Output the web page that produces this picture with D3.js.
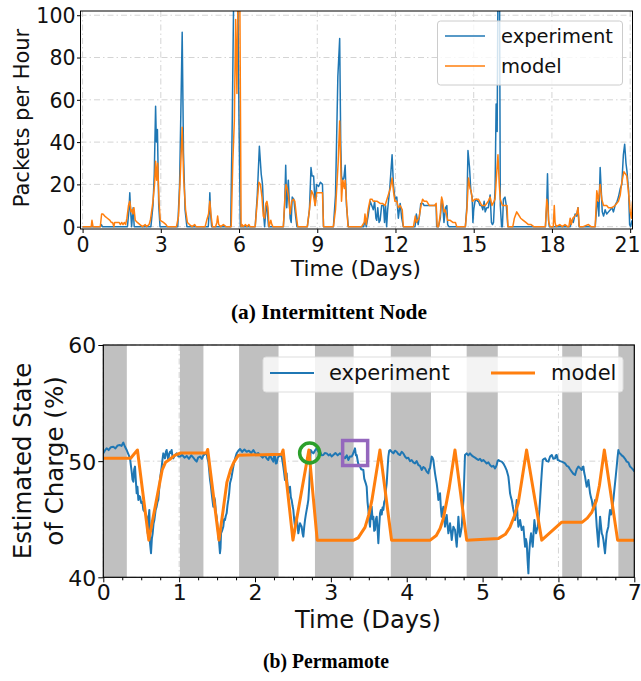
<!DOCTYPE html>
<html><head><meta charset="utf-8">
<script src="https://cdn.jsdelivr.net/npm/d3@7"></script>
<style>body{margin:0;background:#fff}svg{display:block;font-family:"DejaVu Sans",sans-serif}</style>
</head><body><svg id="c" width="641" height="681"></svg>
<script>
// ---------- (a) Intermittent Node : packets per hour ----------
const expTa = [0,0.68,0.72,0.76,1.72,1.78,1.81,1.84,1.88,1.94,1.98,2.62,2.7,2.75,2.8,2.83,2.87,2.92,2.97,3.65,3.72,3.77,3.82,3.87,3.93,4.0,4.82,4.86,4.88,4.91,4.95,5.68,5.74,5.8,5.95,6.0,6.05,6.62,6.7,6.78,6.85,6.9,6.95,6.98,7.03,7.07,7.13,7.7,7.75,7.79,7.83,7.89,7.96,8.0,8.04,8.1,8.17,8.22,8.62,8.7,8.76,8.8,8.86,8.92,8.97,9.05,9.12,9.2,9.24,9.62,9.7,9.79,9.86,9.9,9.93,9.97,10.02,10.07,10.12,10.19,10.7,10.78,10.83,10.88,10.95,11.03,11.09,11.15,11.2,11.25,11.28,11.32,11.37,11.41,11.47,11.54,11.58,11.62,11.66,11.7,11.78,11.87,11.92,11.98,12.05,12.11,12.18,12.24,12.3,12.69,12.75,12.8,12.87,12.92,12.97,13.05,13.1,13.2,13.3,13.4,13.5,13.56,13.58,13.65,13.72,13.77,13.81,13.86,13.92,13.97,14.0,14.05,14.68,14.74,14.78,14.84,14.89,14.94,14.97,15.0,15.05,15.1,15.15,15.18,15.24,15.3,15.35,15.4,15.44,15.5,15.56,15.63,15.68,15.72,15.76,15.82,15.86,15.9,15.93,15.99,16.02,16.07,16.1,16.14,16.2,16.25,16.31,17.75,17.8,17.83,17.87,17.9,18.6,18.7,18.76,18.82,18.89,18.95,19.0,19.04,19.66,19.72,19.76,19.8,19.85,19.9,19.93,19.98,20.04,20.1,20.17,20.24,20.3,20.36,20.42,20.5,20.55,20.62,20.68,20.74,20.79,20.84,20.88,20.94,20.98,21.02,21.07];
const expVa = [0,0,1,0,0,8,16,8,0,9,0,0,10,25,57,40,46,10,0,0,20,55,92,35,8,0,0,8,16,6,0,0,50,115,115,50,0,0,15,38,25,20,5,0,8,10,0,0,10,29,9,22,4,2,14,13,5,0,0,8,28,24,24,10,20,19,21,20,0,0,15,71,89,40,24,22,23,29,10,0,0,0,3,0,5,12,10,8,12,4,3,9,2,3,10,10,2,10,0,8,18,34,20,13,14,4,11,4,0,0,0,6,1,5,11,11,10,10,10,10,10,10,0,0,4,13,10,2,9,10,1,0,0,10,36,28,17,14,2,8,12,13,12,12,10,10,8,12,7,9,9,15,2,1,2,18,58,45,115,115,10,0,0,13,14,10,0,0,10,25,3,0,0,0,3,2,6,5,9,0,0,10,12,5,28,15,7,5,8,6,7,8,9,7,10,12,14,18,20,34,39,30,26,17,1,0,3];
const modTa = [0,0.33,0.36,0.4,0.68,0.73,0.78,0.85,0.95,1.05,1.1,1.15,1.2,1.23,1.3,1.4,1.45,1.5,1.55,1.6,1.65,1.7,1.76,1.81,1.86,1.9,1.93,1.97,2.02,2.1,2.2,2.3,2.4,2.45,2.55,2.6,2.7,2.76,2.8,2.84,2.88,2.93,2.98,3.1,3.2,3.25,3.6,3.68,3.75,3.82,3.88,3.95,4.02,4.1,4.2,4.3,4.35,4.7,4.76,4.83,4.88,4.93,4.98,5.1,5.15,5.18,5.22,5.3,5.4,5.5,5.7,5.76,5.82,5.87,5.92,5.96,6.03,6.08,6.12,6.16,6.25,6.3,6.38,6.42,6.62,6.7,6.76,6.82,6.88,6.93,6.98,7.03,7.07,7.11,7.15,7.22,7.26,7.3,7.7,7.75,7.8,7.85,7.9,7.96,8.02,8.08,8.14,8.2,8.25,8.62,8.7,8.78,8.85,8.92,8.98,9.1,9.2,9.24,9.62,9.7,9.8,9.86,9.9,9.93,9.98,10.04,10.07,10.12,10.18,10.7,10.8,10.83,10.88,10.95,11.03,11.1,11.15,11.3,11.41,11.5,11.6,11.7,11.8,11.87,11.93,11.98,12.05,12.11,12.18,12.26,12.3,12.69,12.76,12.8,12.9,12.98,13.04,13.1,13.2,13.3,13.4,13.5,13.56,13.6,13.65,13.72,13.77,13.81,13.86,13.9,13.95,14.0,14.1,14.2,14.3,14.35,14.68,14.74,14.8,14.86,14.9,14.95,15.05,15.18,15.31,15.44,15.56,15.63,15.7,15.82,15.88,15.93,15.98,16.02,16.1,16.2,16.28,16.31,16.5,16.56,16.65,16.7,16.8,16.9,17.0,17.1,17.2,17.3,17.75,17.8,17.84,17.88,17.93,18.05,18.09,18.12,18.16,18.3,18.4,18.5,18.6,18.65,18.7,18.74,18.8,18.88,18.95,19.0,19.05,19.2,19.4,19.5,19.66,19.72,19.78,19.85,19.91,19.98,20.1,20.17,20.3,20.42,20.55,20.62,20.68,20.76,20.87,20.94,21.0,21.05,21.09];
const modVa = [0,0,3,0,0,6,6,5,4,3,2,2,0,2,2,2,1,2,1,2,1,4,10,12,7,8,6,9,3,2,1,0,1,0,1,3,12,20,31,22,30,12,3,2,1,0,0,5,25,47,22,8,2,1,0,1,0,0,3,6,12,5,0,0,2,5,1,0,1,0,0,30,50,98,63,110,110,0,1,0,1,0,1,0,0,12,21,20,14,5,4,11,12,9,0,3,1,0,0,12,20,18,14,6,12,13,12,5,0,0,8,17,15,10,16,16,16,0,0,8,30,50,30,12,22,18,22,12,0,0,2,6,1,8,13,13,12,12,11,11,10,14,18,23,16,12,12,9,10,8,0,0,5,2,4,10,13,12,12,10,10,10,11,0,0,6,14,12,7,8,6,3,3,2,2,0,0,8,23,18,17,12,13,13,10,10,12,14,10,13,25,34,20,13,10,10,10,0,0,4,7,6,4,3,2,1,1,0,0,13,10,2,0,0,10,2,0,1,0,1,0,0,4,1,4,5,6,9,0,0,1,0,0,17,12,20,13,10,10,9,9,10,12,15,21,26,24,16,7,4,12];
const xTicksA = [0,3,6,9,12,15,18,21];
const yTicksA = [0,20,40,60,80,100];

// ---------- (b) Permamote : state of charge ----------
const expTb = [0.0,0.02,0.044,0.07,0.1,0.132,0.16,0.19,0.22,0.24,0.264,0.286,0.308,0.33,0.352,0.374,0.385,0.396,0.407,0.418,0.43,0.44,0.45,0.462,0.473,0.484,0.5,0.515,0.528,0.55,0.571,0.585,0.595,0.607,0.616,0.629,0.64,0.651,0.662,0.673,0.69,0.703,0.715,0.725,0.739,0.75,0.77,0.78,0.791,0.802,0.813,0.825,0.835,0.846,0.857,0.868,0.879,0.89,0.901,0.912,0.923,0.945,0.967,0.99,1.011,1.04,1.07,1.099,1.13,1.16,1.187,1.21,1.231,1.25,1.275,1.3,1.319,1.34,1.363,1.374,1.385,1.396,1.407,1.418,1.429,1.44,1.45,1.461,1.472,1.483,1.494,1.505,1.516,1.527,1.538,1.545,1.552,1.565,1.582,1.593,1.604,1.615,1.626,1.637,1.648,1.66,1.67,1.69,1.714,1.736,1.758,1.78,1.802,1.83,1.86,1.89,1.92,1.95,1.978,2.01,2.04,2.066,2.1,2.13,2.153,2.175,2.197,2.22,2.241,2.252,2.263,2.274,2.285,2.3,2.329,2.351,2.362,2.373,2.384,2.395,2.406,2.417,2.428,2.439,2.45,2.461,2.472,2.483,2.494,2.505,2.516,2.527,2.538,2.549,2.56,2.571,2.582,2.593,2.604,2.615,2.626,2.637,2.648,2.659,2.67,2.681,2.692,2.703,2.714,2.725,2.734,2.75,2.769,2.79,2.813,2.835,2.857,2.88,2.901,2.92,2.945,2.97,2.99,3.01,3.032,3.06,3.09,3.12,3.15,3.186,3.21,3.23,3.25,3.274,3.29,3.308,3.318,3.33,3.34,3.36,3.384,3.4,3.428,3.44,3.46,3.472,3.483,3.494,3.505,3.516,3.527,3.538,3.549,3.56,3.571,3.582,3.593,3.604,3.615,3.626,3.637,3.648,3.659,3.67,3.681,3.692,3.703,3.714,3.725,3.736,3.747,3.758,3.769,3.78,3.8,3.824,3.845,3.867,3.89,3.911,3.933,3.955,3.977,3.999,4.02,4.043,4.065,4.087,4.109,4.131,4.153,4.175,4.197,4.219,4.241,4.263,4.285,4.296,4.307,4.318,4.329,4.34,4.351,4.362,4.373,4.384,4.395,4.406,4.417,4.428,4.439,4.45,4.461,4.472,4.483,4.494,4.505,4.516,4.527,4.538,4.549,4.56,4.571,4.582,4.593,4.604,4.615,4.626,4.637,4.648,4.659,4.67,4.681,4.692,4.703,4.714,4.725,4.736,4.747,4.758,4.768,4.79,4.812,4.834,4.856,4.878,4.9,4.922,4.944,4.966,4.988,5.01,5.032,5.054,5.076,5.098,5.12,5.142,5.164,5.175,5.186,5.197,5.208,5.23,5.252,5.274,5.296,5.318,5.34,5.351,5.362,5.373,5.384,5.395,5.406,5.417,5.428,5.439,5.45,5.461,5.472,5.483,5.494,5.505,5.516,5.527,5.538,5.549,5.56,5.571,5.582,5.593,5.604,5.61,5.617,5.628,5.639,5.65,5.661,5.672,5.683,5.694,5.705,5.716,5.727,5.738,5.749,5.76,5.771,5.782,5.793,5.808,5.824,5.846,5.868,5.89,5.912,5.933,5.955,5.966,5.977,5.99,6.0,6.02,6.043,6.065,6.087,6.109,6.131,6.153,6.175,6.197,6.219,6.241,6.263,6.285,6.307,6.318,6.329,6.34,6.351,6.362,6.373,6.384,6.395,6.406,6.417,6.428,6.439,6.45,6.461,6.472,6.483,6.494,6.505,6.516,6.527,6.538,6.549,6.56,6.571,6.582,6.593,6.604,6.614,6.625,6.636,6.647,6.658,6.669,6.68,6.691,6.702,6.713,6.724,6.735,6.746,6.757,6.768,6.779,6.79,6.801,6.812,6.834,6.856,6.878,6.9,6.922,6.944,6.966,6.988,7.0];
const expVb = [50.67,50.9,51.1,50.95,51.2,51.24,51.1,51.35,51.39,51.3,51.6,51.24,50.96,50.6,50.24,49.1,48.4,48.23,49.3,49.53,48.2,47.23,47.8,46.66,47.0,46.94,46.4,46.5,45.8,45.6,45.22,43.79,45.0,45.8,42.93,42.07,43.3,43.79,44.6,44.93,45.8,46.08,46.5,46.66,47.8,48.6,49.53,50.1,50.67,50.5,50.24,50.8,50.96,50.5,50.1,50.6,50.81,50.7,50.96,50.4,50.24,50.5,50.67,50.4,50.39,50.55,50.3,50.45,50.2,50.5,50.3,50.1,49.96,50.3,50.4,50.2,50.5,50.6,50.67,50.2,49.96,49.2,48.38,47.9,47.23,46.6,46.08,46.9,46.66,45.6,45.22,44.5,43.5,43.0,42.07,42.5,43.79,44.0,44.36,45.0,44.93,45.3,45.51,46.2,46.66,47.3,48.09,48.6,49.53,50.2,50.67,50.9,51.05,50.8,51.0,50.81,50.9,50.7,50.96,50.6,50.7,50.53,50.3,50.5,50.24,50.1,50.53,50.2,49.96,50.5,50.39,49.8,49.81,50.3,50.53,50.39,50.0,49.53,49.0,48.38,48.8,48.95,48.0,47.23,47.6,47.8,46.9,46.66,46.2,45.8,45.0,44.36,44.8,45.22,44.5,43.79,44.2,44.65,44.5,44.36,43.8,43.5,44.3,44.93,45.4,45.8,46.2,46.66,47.8,49.53,50.96,50.8,50.67,50.9,51.1,50.8,50.81,50.5,50.53,50.7,50.67,50.5,50.6,50.4,50.53,50.7,50.5,50.67,50.5,50.24,50.5,50.1,50.4,50.39,50.6,50.9,51.1,50.5,50.53,49.8,49.53,49.3,49.24,48.5,48.09,47.8,46.5,45.8,45.0,44.36,45.5,46.08,45.0,45.22,44.0,44.07,45.0,45.22,44.2,42.93,44.36,45.51,45.8,45.4,46.0,45.8,46.5,46.66,47.5,48.09,49.3,50.39,50.9,50.96,50.81,50.67,50.9,50.81,50.6,50.53,50.8,50.67,50.4,50.24,50.3,50.0,50.1,49.9,49.81,50.0,49.67,49.6,49.24,49.5,49.38,49.1,48.95,49.3,49.38,49.9,50.39,50.3,50.1,49.5,48.95,48.5,48.09,47.5,46.66,46.9,47.23,46.0,45.22,45.7,46.08,45.2,44.36,44.9,45.37,44.5,43.79,44.2,44.65,44.0,43.21,43.8,44.36,44.2,44.07,43.3,42.64,43.8,45.22,44.2,43.5,43.9,44.36,45.5,46.66,48.5,50.53,50.67,50.5,50.67,50.5,50.39,50.3,50.2,50.1,50.2,50.0,50.1,49.96,49.8,49.9,49.67,49.53,49.6,49.38,49.5,49.67,50.0,50.1,50.0,49.96,49.8,49.53,49.2,48.67,48.0,47.23,46.9,46.66,46.2,45.8,45.5,44.93,45.8,46.66,45.2,44.36,44.6,44.93,44.5,44.07,44.2,44.36,43.5,42.64,43.3,42.93,41.5,40.34,41.5,42.35,43.2,43.79,43.2,42.64,43.8,44.93,44.3,43.79,44.1,44.36,45.0,45.8,46.9,48.09,49.2,50.1,50.2,50.24,50.0,49.96,50.4,50.53,50.2,50.24,50.5,50.53,50.1,50.1,50.0,49.96,49.9,49.81,49.6,49.53,49.3,49.1,48.9,48.81,49.3,49.53,49.4,49.24,49.5,49.53,49.0,48.67,48.2,47.8,48.1,48.38,47.8,47.23,46.9,46.66,46.2,45.8,46.3,46.66,45.5,44.36,43.5,42.64,44.0,45.22,44.5,43.79,43.6,43.21,42.6,42.07,43.0,43.79,44.1,44.36,45.2,45.8,45.4,45.51,46.1,46.66,47.4,48.09,48.8,49.53,50.3,50.96,50.7,50.67,50.5,50.39,50.2,49.96,49.9,49.53,49.4,49.24,49.1];
const modTb = [0,0.36,0.45,0.6,0.776,0.82,0.865,0.94,1.02,1.36,1.376,1.525,1.58,1.63,1.68,1.72,1.78,2.35,2.37,2.5,2.71,2.82,3.3,3.36,3.4,3.45,3.5,3.54,3.647,3.8,4.31,4.39,4.44,4.48,4.52,4.56,4.636,4.79,5.21,5.3,5.36,5.42,5.47,5.58,5.78,6.04,6.31,6.38,6.44,6.5,6.54,6.605,6.78,7.0];
const modVb = [50.25,50.25,50.96,43.2,49.24,49.9,50.1,50.5,50.7,50.7,51.0,43.2,45.8,48.2,49.3,49.9,50.5,50.6,50.96,43.2,50.96,43.2,43.2,43.4,43.8,44.3,45.4,46.6,50.96,43.2,43.2,43.6,44.2,45.0,46.3,47.7,50.96,43.2,43.35,43.7,44.3,45.3,46.4,50.96,43.2,44.73,44.73,45.1,45.6,46.6,47.9,50.96,43.2,43.2];
const nightStart = [0,1.01,1.79,2.79,3.79,4.79,6.05,6.79];
const nightEnd   = [0.31,1.32,2.31,3.30,4.32,5.20,6.31,7.0];
const markT = [2.72,3.32];
const markV = [50.7,50.7];
const xTicksB = [0,1,2,3,4,5,6,7];
const yTicksB = [40,50,60];

const BLUE="#1f77b4", ORANGE="#ff7f0e";
const svg = d3.select("#c");
const grid = "#d4d4d4", dash = "6,3,1.5,3";

// ================= panel (a) =================
{
  const x = d3.scaleLinear().domain([-0.08,21.09]).range([80.5,632.5]);
  const y = d3.scaleLinear().domain([-1.1,102]).range([229,11]);
  const g = svg.append("g");
  g.append("defs").append("clipPath").attr("id","ca").append("rect")
    .attr("x",80.5).attr("y",11).attr("width",552).attr("height",218);
  g.selectAll(".gx").data(xTicksA).enter().append("line")
    .attr("x1",d=>x(d)).attr("x2",d=>x(d)).attr("y1",11).attr("y2",229)
    .attr("stroke",grid).attr("stroke-dasharray",dash);
  g.selectAll(".gy").data(yTicksA).enter().append("line")
    .attr("y1",d=>y(d)).attr("y2",d=>y(d)).attr("x1",80.5).attr("x2",632.5)
    .attr("stroke",grid).attr("stroke-dasharray",dash);
  const line = d3.line().x(d=>x(d[0])).y(d=>y(d[1]));
  const cl = g.append("g").attr("clip-path","url(#ca)");
  cl.append("path").datum(expTa.map((t,i)=>[t,expVa[i]])).attr("d",line)
    .attr("fill","none").attr("stroke",BLUE).attr("stroke-width",1.5).attr("stroke-linejoin","round");
  cl.append("path").datum(modTa.map((t,i)=>[t,modVa[i]])).attr("d",line)
    .attr("fill","none").attr("stroke",ORANGE).attr("stroke-width",1.5).attr("stroke-linejoin","round");
  g.append("rect").attr("x",80.5).attr("y",11).attr("width",552).attr("height",218)
    .attr("fill","none").attr("stroke","#000").attr("stroke-width",1);
  const ax = g.append("g").attr("transform","translate(0,229)")
    .call(d3.axisBottom(x).tickValues(xTicksA).tickSize(4).tickPadding(4).tickFormat(d3.format("d")));
  const ay = g.append("g").attr("transform","translate(80.5,0)")
    .call(d3.axisLeft(y).tickValues(yTicksA).tickSize(3.5).tickPadding(1.5).tickFormat(d3.format("d")));
  [ax,ay].forEach(a=>{a.select(".domain").remove();
    a.selectAll("text").attr("font-size","20.5px").attr("fill","#111").attr("font-family","DejaVu Sans");});
  ay.selectAll("text").attr("dy","0.36em");
  ax.selectAll(".tick").filter(d=>d===21).select("text").attr("text-anchor","end").attr("x",10);
  g.append("text").attr("x",356).attr("y",276).attr("text-anchor","middle")
    .attr("font-size","21.5px").attr("fill","#111").text("Time (Days)");
  g.append("text").attr("transform","translate(29,118) rotate(-90)").attr("text-anchor","middle")
    .attr("font-size","21px").attr("fill","#111").text("Packets per Hour");
  const lg = g.append("g");
  lg.append("rect").attr("x",437.5).attr("y",21).attr("width",185).attr("height",64).attr("rx",3)
    .attr("fill","#fff").attr("fill-opacity",0.8).attr("stroke","#ccc");
  [["experiment",BLUE,36],["model",ORANGE,66]].forEach(([n,c,yy])=>{
    lg.append("line").attr("x1",445).attr("x2",485).attr("y1",yy).attr("y2",yy).attr("stroke",c).attr("stroke-width",1.5);
    lg.append("text").attr("x",501).attr("y",yy).attr("dy","0.35em").attr("font-size","19.5px").attr("fill","#111").text(n);
  });
  svg.append("text").attr("x",329).attr("y",319).attr("text-anchor","middle")
    .attr("font-family","Liberation Serif").attr("font-weight","bold").attr("font-size","21px").attr("fill","#000")
    .attr("textLength",196).attr("lengthAdjust","spacingAndGlyphs")
    .text("(a) Intermittent Node");
}

// ================= panel (b) =================
{
  const x = d3.scaleLinear().domain([0,7]).range([103.3,634.3]);
  const y = d3.scaleLinear().domain([40,60]).range([577.3,345]);
  const g = svg.append("g");
  g.append("defs").append("clipPath").attr("id","cb").append("rect")
    .attr("x",103.3).attr("y",345).attr("width",531).attr("height",232.3);
  g.selectAll(".gx").data(xTicksB).enter().append("line")
    .attr("x1",d=>x(d)).attr("x2",d=>x(d)).attr("y1",345).attr("y2",577.3)
    .attr("stroke",grid).attr("stroke-dasharray",dash);
  g.selectAll(".gy").data(yTicksB).enter().append("line")
    .attr("y1",d=>y(d)).attr("y2",d=>y(d)).attr("x1",103.3).attr("x2",634.3)
    .attr("stroke",grid).attr("stroke-dasharray",dash);
  g.selectAll(".night").data(nightStart).enter().append("rect")
    .attr("x",d=>x(d)).attr("width",(d,i)=>x(nightEnd[i])-x(d))
    .attr("y",345).attr("height",232.3).attr("fill","#c0c0c0");
  const line = d3.line().x(d=>x(d[0])).y(d=>y(d[1]));
  const cl = g.append("g").attr("clip-path","url(#cb)");
  cl.append("path").datum(expTb.map((t,i)=>[t,expVb[i]])).attr("d",line)
    .attr("fill","none").attr("stroke",BLUE).attr("stroke-width",2).attr("stroke-linejoin","round");
  cl.append("path").datum(modTb.map((t,i)=>[t,modVb[i]])).attr("d",line)
    .attr("fill","none").attr("stroke",ORANGE).attr("stroke-width",3).attr("stroke-linejoin","round");
  g.append("circle").attr("cx",x(markT[0])).attr("cy",y(markV[0])).attr("r",10)
    .attr("fill","none").attr("stroke","#2ca02c").attr("stroke-width",3.5);
  g.append("rect").attr("x",x(markT[1])-12.5).attr("y",y(markV[1])-12.5).attr("width",25).attr("height",25)
    .attr("fill","none").attr("stroke","#9467bd").attr("stroke-width",3.5);
  g.append("rect").attr("x",103.3).attr("y",345).attr("width",531).attr("height",232.3)
    .attr("fill","none").attr("stroke","#000").attr("stroke-width",1.2);
  const minor = d3.range(0,7.001,0.25).filter(v=>Math.abs(v-Math.round(v))>1e-6);
  g.append("g").attr("transform","translate(0,577.3)")
    .call(d3.axisBottom(x).tickValues(minor).tickSize(3).tickFormat(""))
    .select(".domain").remove();
  const ax = g.append("g").attr("transform","translate(0,577.3)")
    .call(d3.axisBottom(x).tickValues(xTicksB).tickSize(5).tickPadding(2).tickFormat(d3.format("d")));
  const ay = g.append("g").attr("transform","translate(103.3,0)")
    .call(d3.axisLeft(y).tickValues(yTicksB).tickSize(5).tickPadding(2).tickFormat(d3.format("d")));
  [ax,ay].forEach(a=>{a.select(".domain").remove();
    a.selectAll("text").attr("font-size","22px").attr("fill","#111").attr("font-family","DejaVu Sans");});
  ay.selectAll("text").attr("dy","0.36em");
  g.append("text").attr("x",368).attr("y",628).attr("text-anchor","middle")
    .attr("font-size","24.2px").attr("fill","#111").text("Time (Days)");
  g.append("text").attr("transform","translate(31,461) rotate(-90)").attr("text-anchor","middle")
    .attr("font-size","24.5px").attr("fill","#111").text("Estimated State");
  g.append("text").attr("transform","translate(63,461) rotate(-90)").attr("text-anchor","middle")
    .attr("font-size","24.5px").attr("fill","#111").text("of Charge (%)");
  const lg = g.append("g");
  lg.append("rect").attr("x",263).attr("y",357).attr("width",360).attr("height",35).attr("rx",3)
    .attr("fill","#fff").attr("fill-opacity",0.8).attr("stroke","#ddd");
  [["experiment",BLUE,270,329,2],["model",ORANGE,491,551,3]].forEach(([n,c,lx,tx,w])=>{
    lg.append("line").attr("x1",lx).attr("x2",lx+44).attr("y1",373).attr("y2",373).attr("stroke",c).attr("stroke-width",w);
    lg.append("text").attr("x",tx).attr("y",373).attr("dy","0.35em").attr("font-size","21px").attr("fill","#111").text(n);
  });
  svg.append("text").attr("x",326).attr("y",668).attr("text-anchor","middle")
    .attr("font-family","Liberation Serif").attr("font-weight","bold").attr("font-size","21px").attr("fill","#000")
    .attr("textLength",126).attr("lengthAdjust","spacingAndGlyphs")
    .text("(b) Permamote");
}
</script></body></html>
